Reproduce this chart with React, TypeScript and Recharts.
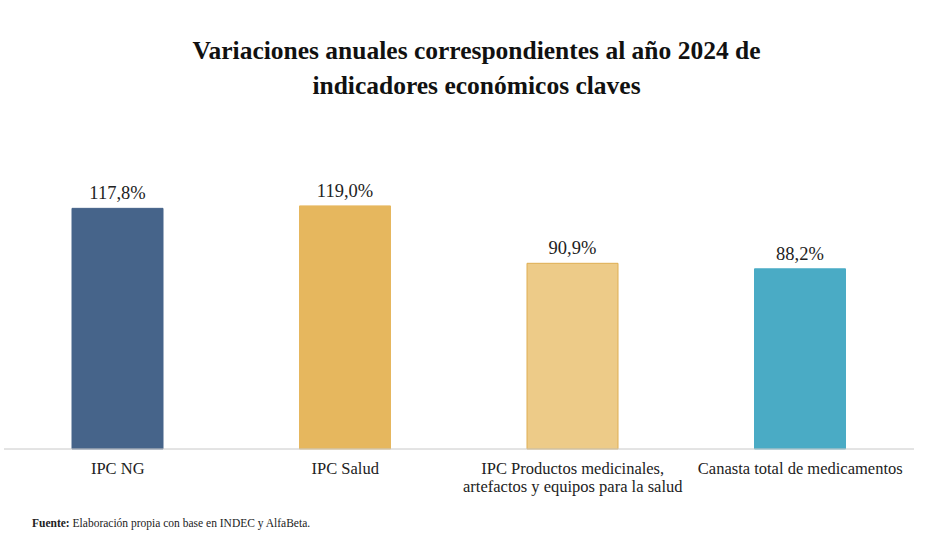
import { Bar, BarChart, Cell, LabelList, XAxis, YAxis } from 'recharts';
import { ReactElement } from 'react';

const categories = [
  'IPC NG',
  'IPC Salud',
  'IPC Productos medicinales, artefactos y equipos para la salud',
  'Canasta total de medicamentos',
];
const tickLines = [
  ['IPC NG'],
  ['IPC Salud'],
  ['IPC Productos medicinales,', 'artefactos y equipos para la salud'],
  ['Canasta total de medicamentos'],
];
const values = [117.8, 119.0, 90.9, 88.2];
const fills = ['#46648A', '#E6B75E', '#EDCB88', '#4AABC5'];
const strokes = ['#46648A', '#E6B75E', '#DFAE52', '#4AABC5'];

const data = categories.map((name, i) => ({ name, value: values[i], idx: i }));

const SERIF = '"Liberation Serif", "Times New Roman", serif';

const CategoryTick = (props: any) => {
  const { x, y, payload } = props;
  const lines = tickLines[payload.index] ?? [payload.value];
  return (
    <g>
      {lines.map((l, i) => (
        <text key={i} x={x} y={y + 17 + i * 18} textAnchor="middle" fill="#222" fontSize={16.5} fontFamily={SERIF}>
          {l}
        </text>
      ))}
    </g>
  );
};

const formatPct = (v: any) => `${Number(v).toFixed(1).replace('.', ',')}%`;

export default function App(): ReactElement {
  return (
    <div style={{ position: 'absolute', left: 0, top: 0, width: 929, height: 545, background: '#fff' }}>
      <div
        style={{
          position: 'absolute',
          top: 33,
          left: 12,
          width: 929,
          textAlign: 'center',
          fontFamily: SERIF,
          fontWeight: 'bold',
          fontSize: 25.5,
          lineHeight: '35px',
          color: '#111',
        }}
      >
        Variaciones anuales correspondientes al año 2024 de
        <br />
        indicadores económicos claves
      </div>
      <BarChart
        width={929}
        height={545}
        data={data}
        margin={{ top: 163, right: 15, left: 4, bottom: 36 }}
        barSize={91}
      >
        <XAxis
          dataKey="name"
          interval={0}
          height={60}
          tickLine={false}
          axisLine={{ stroke: '#c8c8c8' }}
          tick={<CategoryTick />}
        />
        <YAxis hide domain={[0, 140]} />
        <Bar dataKey="value" isAnimationActive={false}>
          {data.map((d) => (
            <Cell key={d.name} fill={fills[d.idx]} stroke={strokes[d.idx]} strokeWidth={1} />
          ))}
          <LabelList
            dataKey="value"
            position="top"
            offset={9}
            formatter={formatPct}
            style={{ fontFamily: SERIF, fontSize: 18.5, fill: '#222' }}
          />
        </Bar>
      </BarChart>
      <div
        style={{
          position: 'absolute',
          top: 517,
          left: 32,
          fontFamily: SERIF,
          fontSize: 11.5,
          color: '#222',
        }}
      >
        <b>Fuente:</b> Elaboración propia con base en INDEC y AlfaBeta.
      </div>
    </div>
  );
}
